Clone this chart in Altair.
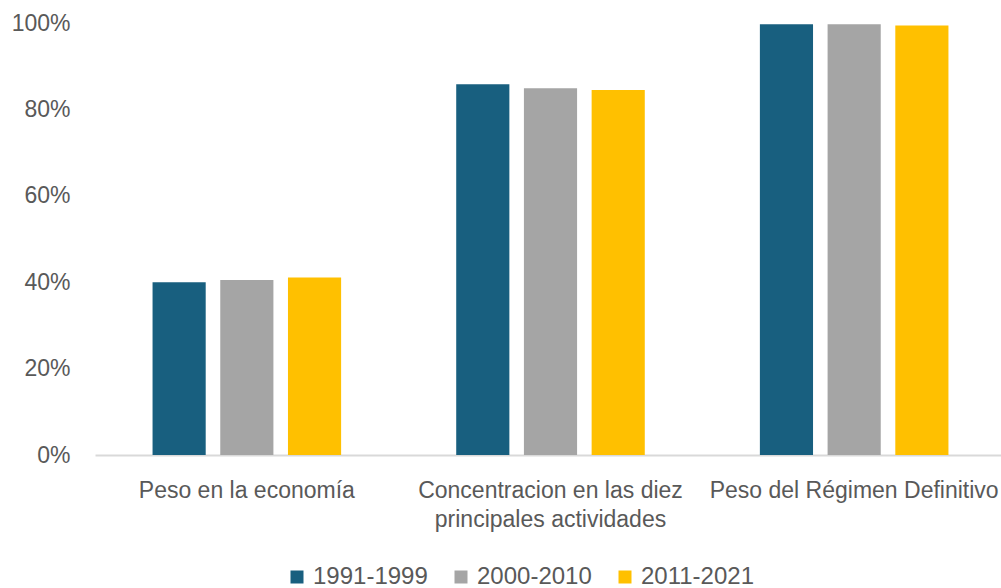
import altair as alt
import pandas as pd

categories = [
    "Peso en la economía",
    "Concentracion en las diez principales actividades",
    "Peso del Régimen Definitivo",
]
periods = ["1991-1999", "2000-2010", "2011-2021"]
v_1991_1999 = [0.400, 0.858, 0.997]
v_2000_2010 = [0.405, 0.849, 0.997]
v_2011_2021 = [0.411, 0.845, 0.994]
colors = ["#185F7F", "#A5A5A5", "#FFC000"]

rows = []
for series, vals in zip(periods, [v_1991_1999, v_2000_2010, v_2011_2021]):
    for c, v in zip(categories, vals):
        rows.append({"categoria": c, "periodo": series, "valor": v})
df = pd.DataFrame(rows)

label_expr = (
    "datum.value == 'Concentracion en las diez principales actividades' ? "
    "['Concentracion en las diez', 'principales actividades'] : datum.value"
)

chart = (
    alt.Chart(df)
    .mark_bar()
    .encode(
        x=alt.X(
            "categoria:N",
            sort=categories,
            scale=alt.Scale(paddingInner=0, paddingOuter=0, range=[0, 911]),
            axis=alt.Axis(
                title=None,
                labelAngle=0,
                ticks=False,
                domainColor="#D9D9D9",
                domainWidth=2,
                labelFontSize=23,
                labelColor="#595959",
                labelPadding=24,
                labelBaseline="top",
                labelLimit=400,
                labelLineHeight=29,
                labelExpr=label_expr,
            ),
        ),
        xOffset=alt.XOffset(
            "periodo:N",
            sort=periods,
            scale=alt.Scale(paddingInner=0.215, paddingOuter=0.85),
        ),
        y=alt.Y(
            "valor:Q",
            scale=alt.Scale(domain=[0, 1]),
            axis=alt.Axis(
                title=None,
                format=".0%",
                values=[0, 0.2, 0.4, 0.6, 0.8, 1.0],
                grid=False,
                domain=False,
                ticks=False,
                labelFontSize=23,
                labelPadding=25,
                labelColor="#595959",
            ),
        ),
        color=alt.Color(
            "periodo:N",
            sort=periods,
            scale=alt.Scale(domain=periods, range=colors),
            legend=alt.Legend(
                title=None,
                orient="none",
                legendX=190,
                legendY=542,
                direction="horizontal",
                symbolType="square",
                symbolSize=169,
                symbolStrokeWidth=0,
                labelFontSize=24,
                labelColor="#595959",
                labelOffset=4,
                columnPadding=21,
                labelLimit=300,
            ),
        ),
    )
    .properties(
        width=906,
        height=432,
        autosize="none",
        padding={"left": 95, "top": 23, "right": 0, "bottom": 133},
    )
    .configure(font="Liberation Sans")
    .configure_view(stroke=None)
)

chart.save("out.html", embed_options={"renderer": "svg", "actions": False})
